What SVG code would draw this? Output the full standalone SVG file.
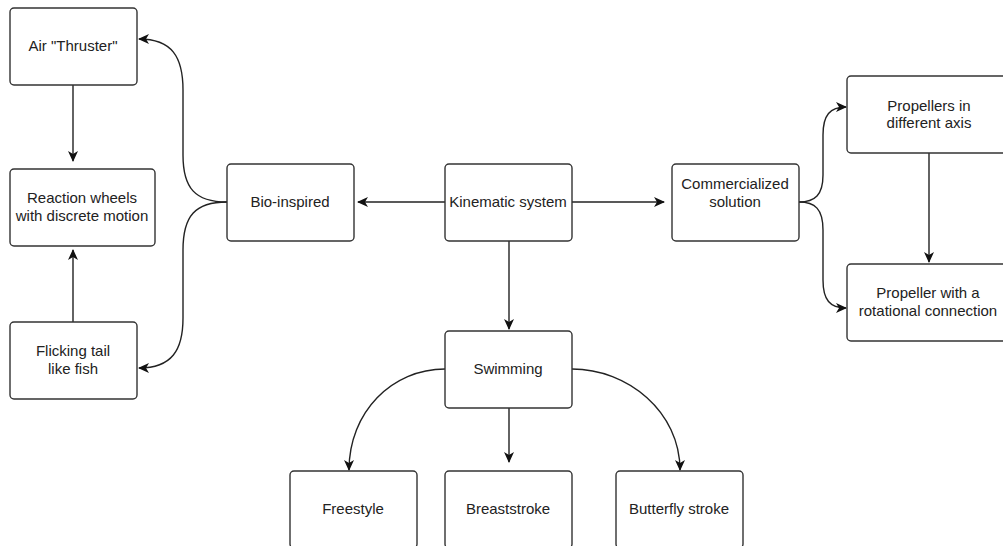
<svg xmlns="http://www.w3.org/2000/svg" width="1003" height="546" viewBox="0 0 1003 546">
<style>
.box{fill:#fff;stroke:#333;stroke-width:1.4}
.t{font-family:"Liberation Sans",Arial,sans-serif;font-size:15px;fill:#222;text-anchor:middle}
.e{fill:none;stroke:#222;stroke-width:1.4}
</style>
<defs>
<marker id="a" viewBox="0 0 11 11" refX="10" refY="5.5" markerWidth="11" markerHeight="11" markerUnits="userSpaceOnUse" orient="auto">
<path d="M0,0.5 L11,5.5 L0,10.5 L3,5.5 Z" fill="#111"/>
</marker>
</defs>
<rect width="1003" height="546" fill="#fff"/>
<g id="edges">
<path class="e" d="M73,85 V161" marker-end="url(#a)"/>
<path class="e" d="M73,322 V250" marker-end="url(#a)"/>
<path class="e" d="M227,202 C195,202 183,188 183,155 L183,90 C183,57 172,39 139,39" marker-end="url(#a)"/>
<path class="e" d="M227,202 C195,202 183,216 183,250 L183,318 C183,350 172,368 139,368" marker-end="url(#a)"/>
<path class="e" d="M445,202 H358" marker-end="url(#a)"/>
<path class="e" d="M572,202 H664" marker-end="url(#a)"/>
<path class="e" d="M509,241 V329" marker-end="url(#a)"/>
<path class="e" d="M799,202 C815,202 823,195 823,175 L823,135 C823,115 830,107 846,107" marker-end="url(#a)"/>
<path class="e" d="M799,202 C815,202 823,209 823,230 L823,280 C823,300 830,308 846,308" marker-end="url(#a)"/>
<path class="e" d="M929,153 V262" marker-end="url(#a)"/>
<path class="e" d="M445,369 C392,369 349,412 349,470" marker-end="url(#a)"/>
<path class="e" d="M509,408 V462" marker-end="url(#a)"/>
<path class="e" d="M572,369 C628,369 680,412 680,470" marker-end="url(#a)"/>
</g>
<g id="air-thruster"><rect class="box" x="10" y="8" width="127" height="77" rx="4"/><text class="t" x="73" y="51">Air "Thruster"</text></g>
<g id="reaction-wheels"><rect class="box" x="10" y="169" width="145" height="77" rx="4"/><text class="t" x="82" y="203">Reaction wheels</text><text class="t" x="82" y="221">with discrete motion</text></g>
<g id="flicking-tail"><rect class="box" x="10" y="322" width="127" height="77" rx="4"/><text class="t" x="73" y="356">Flicking tail</text><text class="t" x="73" y="374">like fish</text></g>
<g id="bio-inspired"><rect class="box" x="227" y="164" width="127" height="77" rx="4"/><text class="t" x="290" y="207">Bio-inspired</text></g>
<g id="kinematic-system"><rect class="box" x="445" y="164" width="127" height="77" rx="4"/><text class="t" x="508" y="207">Kinematic system</text></g>
<g id="commercialized-solution"><rect class="box" x="672" y="164" width="127" height="77" rx="4"/><text class="t" x="735" y="189">Commercialized</text><text class="t" x="735" y="207">solution</text></g>
<g id="propellers-axis"><rect class="box" x="847" y="76" width="164" height="77" rx="4"/><text class="t" x="929" y="111">Propellers in</text><text class="t" x="929" y="128">different axis</text></g>
<g id="propeller-rotational"><rect class="box" x="847" y="264" width="164" height="77" rx="4"/><text class="t" x="928" y="298">Propeller with a</text><text class="t" x="928" y="316">rotational connection</text></g>
<g id="swimming"><rect class="box" x="445" y="331" width="127" height="77" rx="4"/><text class="t" x="508" y="374">Swimming</text></g>
<g id="freestyle"><rect class="box" x="290" y="471" width="127" height="77" rx="4"/><text class="t" x="353" y="514">Freestyle</text></g>
<g id="breaststroke"><rect class="box" x="445" y="471" width="127" height="77" rx="4"/><text class="t" x="508" y="514">Breaststroke</text></g>
<g id="butterfly-stroke"><rect class="box" x="616" y="471" width="127" height="77" rx="4"/><text class="t" x="679" y="514">Butterfly stroke</text></g>
</svg>
